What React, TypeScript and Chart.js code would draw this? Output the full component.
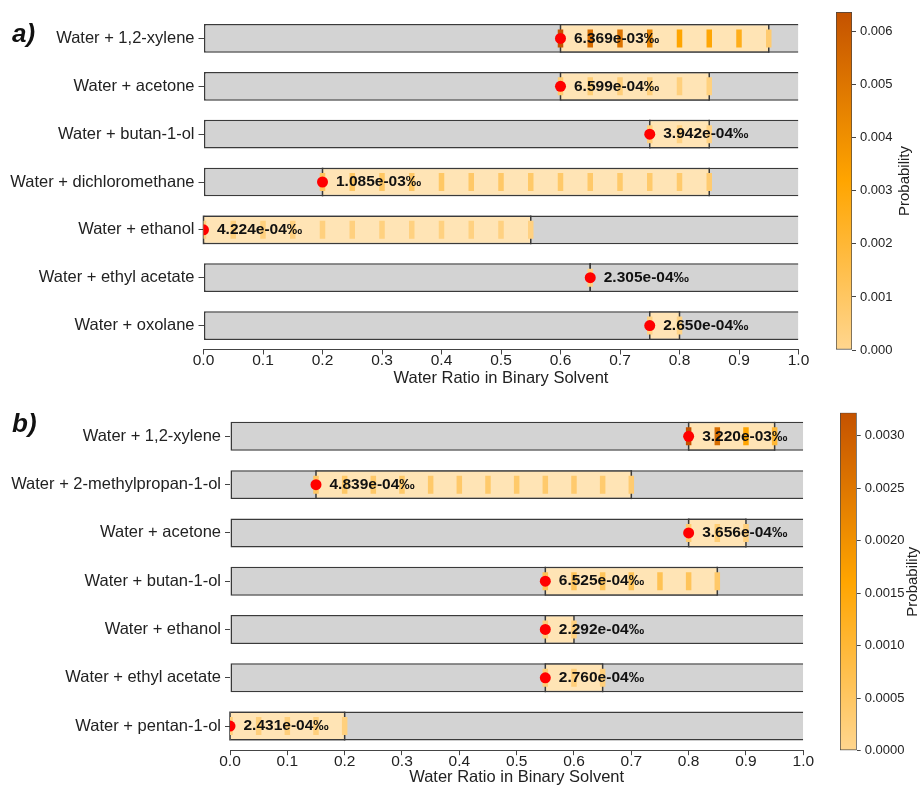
import React, { useEffect, useRef } from "react";
import { Chart, registerables } from "chart.js";

Chart.register(...registerables);

const FONT = '"Liberation Sans", Arial, Helvetica, sans-serif';

// ---------- shared axis data ----------
const xTicks = [0, 0.1, 0.2, 0.3, 0.4, 0.5, 0.6, 0.7, 0.8, 0.9, 1.0];
const X_MIN = 0;
const X_MAX = 1;
const gridStep = 0.05;
const xTitle = "Water Ratio in Binary Solvent";
const cbarTitle = "Probability";

// ---------- panel a ----------
const aSolvents = [
  "Water + 1,2-xylene",
  "Water + acetone",
  "Water + butan-1-ol",
  "Water + dichloromethane",
  "Water + ethanol",
  "Water + ethyl acetate",
  "Water + oxolane",
];
const aRangeMin = [0.6, 0.6, 0.75, 0.2, 0.0, 0.65, 0.75];
const aRangeMax = [0.95, 0.85, 0.85, 0.85, 0.55, 0.65, 0.8];
const aOptRatio = [0.6, 0.6, 0.75, 0.2, 0.0, 0.65, 0.75];
const aOptProb = [6.369e-3, 6.599e-4, 3.942e-4, 1.085e-3, 4.224e-4, 2.305e-4, 2.65e-4];
const aGridProb = [
  [0.006369, 0.0054, 0.0051, 0.0045, 0.0032, 0.0031, 0.0026, 0.0007],
  [0.00066, 0.00055, 0.0005, 0.00045, 0.0004, 0.00035],
  [0.000394, 0.0003, 0.00025],
  [0.001085, 0.001, 0.00098, 0.00095, 0.00093, 0.0009, 0.00088, 0.00086, 0.00084, 0.00082, 0.0008, 0.00078, 0.00076, 0.0007],
  [0.000422, 0.0004, 0.00039, 0.00038, 0.00037, 0.00036, 0.00035, 0.00034, 0.00033, 0.00032, 0.00031, 0.0003],
  [0.0002305],
  [0.000265, 0.00022],
];
const aColorMax = 0.006369;
const aCbarTicks = [0, 0.001, 0.002, 0.003, 0.004, 0.005, 0.006];
const aCbarDecimals = 3;

// ---------- panel b ----------
const bSolvents = [
  "Water + 1,2-xylene",
  "Water + 2-methylpropan-1-ol",
  "Water + acetone",
  "Water + butan-1-ol",
  "Water + ethanol",
  "Water + ethyl acetate",
  "Water + pentan-1-ol",
];
const bRangeMin = [0.8, 0.15, 0.8, 0.55, 0.55, 0.55, 0.0];
const bRangeMax = [0.95, 0.7, 0.9, 0.85, 0.6, 0.65, 0.2];
const bOptRatio = [0.8, 0.15, 0.8, 0.55, 0.55, 0.55, 0.0];
const bOptProb = [3.22e-3, 4.839e-4, 3.656e-4, 6.525e-4, 2.292e-4, 2.76e-4, 2.431e-4];
const bGridProb = [
  [0.00322, 0.0027, 0.0016, 0.001],
  [0.000484, 0.00046, 0.00045, 0.00044, 0.00043, 0.00042, 0.00041, 0.0004, 0.00039, 0.00038, 0.00037, 0.00035],
  [0.000366, 0.0003, 0.00025],
  [0.000653, 0.00062, 0.0006, 0.00064, 0.00066, 0.0006, 0.00045],
  [0.000229, 0.0002],
  [0.000276, 0.00025, 0.00022],
  [0.000243, 0.00023, 0.00022, 0.00021, 0.0002],
];
const bColorMax = 0.00322;
const bCbarTicks = [0, 0.0005, 0.001, 0.0015, 0.002, 0.0025, 0.003];
const bCbarDecimals = 4;

// ---------- colour map ----------
const CMAP: number[][] = [
  [255, 214, 143],
  [255, 165, 0],
  [196, 82, 0],
];
function cmap(t: number): string {
  const tt = Math.max(0, Math.min(1, t));
  const s = tt * (CMAP.length - 1);
  const i = Math.min(CMAP.length - 2, Math.floor(s));
  const f = s - i;
  const a = CMAP[i];
  const b = CMAP[i + 1];
  const c = a.map((v, k) => Math.round(v + (b[k] - v) * f));
  return `rgb(${c[0]},${c[1]},${c[2]})`;
}

function fmtProb(p: number): string {
  const [m, e] = p.toExponential(3).split("e");
  const n = parseInt(e, 10);
  return `${m}e${n < 0 ? "-" : "+"}${String(Math.abs(n)).padStart(2, "0")}‰`;
}

// ---------- plugins ----------
function makeEdgePlugin(mins: number[], maxs: number[]) {
  return {
    id: "rangeEdges",
    afterDatasetDraw(chart: any, args: any) {
      if (args.index !== 1) return;
      const { ctx, scales } = chart;
      const meta = chart.getDatasetMeta(1);
      ctx.save();
      ctx.strokeStyle = "#3a3a3a";
      ctx.lineWidth = 1.5;
      meta.data.forEach((bar: any, i: number) => {
        const { y, height } = bar.getProps(["y", "height"], true);
        [mins[i], maxs[i]].forEach((v) => {
          const px = scales.x.getPixelForValue(v);
          ctx.beginPath();
          ctx.moveTo(px, y - height / 2);
          ctx.lineTo(px, y + height / 2);
          ctx.stroke();
        });
      });
      ctx.restore();
    },
  };
}

function makeTextPlugin(ratios: number[], probs: number[]) {
  return {
    id: "optLabels",
    afterDatasetsDraw(chart: any) {
      const { ctx, scales } = chart;
      ctx.save();
      ctx.font = `bold 15.5px ${FONT}`;
      ctx.fillStyle = "#111";
      ctx.textBaseline = "middle";
      ctx.textAlign = "left";
      ratios.forEach((r, i) => {
        ctx.fillText(fmtProb(probs[i]), scales.x.getPixelForValue(r) + 13.5, scales.y.getPixelForValue(i));
      });
      ctx.restore();
    },
  };
}

function makeTagPlugin(text: string, x: number, y: number) {
  return {
    id: "panelTag",
    afterDraw(chart: any) {
      const { ctx } = chart;
      ctx.save();
      ctx.font = `italic bold 26px ${FONT}`;
      ctx.fillStyle = "#111";
      ctx.textBaseline = "alphabetic";
      ctx.textAlign = "left";
      ctx.fillText(text, x, y);
      ctx.restore();
    },
  };
}

function makeCbarTitlePlugin(text: string, x: number, y: number) {
  return {
    id: "cbarTitle",
    afterDraw(chart: any) {
      const { ctx } = chart;
      ctx.save();
      ctx.translate(x, y);
      ctx.rotate(-Math.PI / 2);
      ctx.font = `15px ${FONT}`;
      ctx.fillStyle = "#222";
      ctx.textAlign = "center";
      ctx.textBaseline = "middle";
      ctx.fillText(text, 0, 0);
      ctx.restore();
    },
  };
}

// ---------- components ----------
type PanelProps = {
  solvents: string[];
  rangeMin: number[];
  rangeMax: number[];
  optRatio: number[];
  optProb: number[];
  gridProb: number[][];
  colorMax: number;
  tag: string;
  layout: {
    left: number; top: number; w: number; h: number;
    padTop: number; padRight: number; yAxisW: number; xAxisH: number;
    titlePadBottom: number; tagX: number; tagY: number;
  };
};

function Panel(props: PanelProps) {
  const ref = useRef<HTMLCanvasElement | null>(null);
  const { solvents, rangeMin, rangeMax, optRatio, optProb, gridProb, colorMax, tag, layout } = props;
  useEffect(() => {
    if (!ref.current) return;
    const stripes: any[] = [];
    gridProb.forEach((row, i) => {
      row.forEach((p, j) => {
        stripes.push({ x: Math.round((rangeMin[i] + j * gridStep) * 100) / 100, y: solvents[i], p });
      });
    });
    const chart = new Chart(ref.current, {
      type: "bar",
      data: {
        labels: solvents,
        datasets: [
          {
            type: "bar",
            label: "full",
            data: solvents.map(() => [X_MIN, X_MAX]),
            backgroundColor: "#d3d3d3",
            borderColor: "#3a3a3a",
            borderWidth: { left: 1.5, top: 1.5, bottom: 1.5, right: 0 },
            borderSkipped: false,
            grouped: false,
            barPercentage: 0.6,
            categoryPercentage: 1,
            order: 5,
          },
          {
            type: "bar",
            label: "range",
            data: solvents.map((_, i) => [rangeMin[i], rangeMax[i]]),
            backgroundColor: "#ffe4b5",
            borderColor: "#3a3a3a",
            borderWidth: { left: 0, top: 1.5, bottom: 1.5, right: 0 },
            borderSkipped: false,
            grouped: false,
            barPercentage: 0.6,
            categoryPercentage: 1,
            order: 4,
          },
          {
            type: "scatter",
            label: "grid",
            data: stripes,
            pointStyle: "line",
            pointRotation: 90,
            pointRadius: 9,
            pointHoverRadius: 9,
            pointBorderWidth: 5.5,
            pointHoverBorderWidth: 5.5,
            pointBorderColor: (c: any) => cmap((c.raw ? c.raw.p : 0) / colorMax),
            clip: 0,
            order: 3,
          },
          {
            type: "scatter",
            label: "optimum",
            data: solvents.map((s, i) => ({ x: optRatio[i], y: s })),
            pointStyle: "circle",
            pointRadius: 5.5,
            pointHoverRadius: 5.5,
            pointBackgroundColor: "#ff0000",
            pointBorderWidth: 0,
            clip: 0,
            order: 1,
          },
        ] as any,
      },
      options: {
        indexAxis: "y",
        animation: false,
        responsive: false,
        devicePixelRatio: 1,
        events: [],
        layout: { padding: { left: 0, top: layout.padTop, right: layout.padRight, bottom: 0 } },
        plugins: { legend: { display: false }, tooltip: { enabled: false } },
        scales: {
          x: {
            type: "linear",
            position: "bottom",
            min: X_MIN,
            max: X_MAX,
            afterBuildTicks: (s: any) => {
              s.ticks = xTicks.map((v) => ({ value: v }));
            },
            ticks: {
              callback: (v: any) => Number(v).toFixed(1),
              font: { family: FONT, size: 15.5 },
              color: "#222",
              padding: -3,
              maxRotation: 0,
              autoSkip: false,
            },
            grid: { drawOnChartArea: false, drawTicks: true, tickLength: 5, color: "#444", lineWidth: 1 },
            border: { display: true, color: "#444", width: 1 },
            title: {
              display: true,
              text: xTitle,
              font: { family: FONT, size: 16.5 },
              color: "#222",
              padding: { top: 0, bottom: layout.titlePadBottom },
            },
            afterFit: (s: any) => {
              s.height = layout.xAxisH;
            },
          },
          y: {
            type: "category",
            position: "left",
            offset: true,
            ticks: { font: { family: FONT, size: 16.5 }, color: "#222", padding: 4, autoSkip: false },
            grid: { drawOnChartArea: false, drawTicks: true, tickLength: 5, color: "#444", offset: false },
            border: { display: false },
            afterFit: (s: any) => {
              s.width = layout.yAxisW;
            },
          },
        },
      } as any,
      plugins: [
        makeEdgePlugin(rangeMin, rangeMax),
        makeTextPlugin(optRatio, optProb),
        makeTagPlugin(tag, layout.tagX, layout.tagY),
      ],
    });
    return () => chart.destroy();
  }, []);
  return (
    <canvas
      ref={ref}
      width={layout.w}
      height={layout.h}
      style={{ position: "absolute", left: layout.left, top: layout.top, width: layout.w, height: layout.h }}
    />
  );
}

type CbarProps = {
  colorMax: number;
  ticks: number[];
  decimals: number;
  layout: {
    left: number; top: number; w: number; h: number;
    padTop: number; padBottom: number; padRight: number; yAxisW: number;
    titleX: number; titleY: number;
  };
};

function ColorBar(props: CbarProps) {
  const ref = useRef<HTMLCanvasElement | null>(null);
  const { colorMax, ticks, decimals, layout } = props;
  useEffect(() => {
    if (!ref.current) return;
    const chart = new Chart(ref.current, {
      type: "bar",
      data: {
        labels: ["p"],
        datasets: [
          {
            data: [colorMax],
            backgroundColor: (c: any) => {
              const ca = c.chart.chartArea;
              if (!ca) return cmap(0.5);
              const g = c.chart.ctx.createLinearGradient(0, ca.bottom, 0, ca.top);
              CMAP.forEach((_, k) => g.addColorStop(k / (CMAP.length - 1), cmap(k / (CMAP.length - 1))));
              return g;
            },
            borderColor: "#444",
            borderWidth: 1,
            borderSkipped: false,
            barPercentage: 1,
            categoryPercentage: 1,
          },
        ],
      },
      options: {
        animation: false,
        responsive: false,
        devicePixelRatio: 1,
        events: [],
        layout: { padding: { left: 0, right: layout.padRight, top: layout.padTop, bottom: layout.padBottom } },
        plugins: { legend: { display: false }, tooltip: { enabled: false } },
        scales: {
          x: { display: false },
          y: {
            position: "right",
            min: 0,
            max: colorMax,
            afterBuildTicks: (s: any) => {
              s.ticks = ticks.map((v) => ({ value: v }));
            },
            ticks: {
              callback: (v: any) => Number(v).toFixed(decimals),
              font: { family: FONT, size: 13 },
              color: "#222",
              padding: 4,
              autoSkip: false,
            },
            grid: { drawOnChartArea: false, drawTicks: true, tickLength: 4, color: "#444" },
            border: { display: false },
            afterFit: (s: any) => {
              s.width = layout.yAxisW;
            },
          },
        },
      } as any,
      plugins: [makeCbarTitlePlugin(cbarTitle, layout.titleX, layout.titleY)],
    });
    return () => chart.destroy();
  }, []);
  return (
    <canvas
      ref={ref}
      width={layout.w}
      height={layout.h}
      style={{ position: "absolute", left: layout.left, top: layout.top, width: layout.w, height: layout.h }}
    />
  );
}

export default function App() {
  return (
    <div
      style={{
        position: "absolute",
        left: 0,
        top: 0,
        width: 924,
        height: 786,
        overflow: "hidden",
        background: "#ffffff",
      }}
    >
      <Panel
        solvents={aSolvents}
        rangeMin={aRangeMin}
        rangeMax={aRangeMax}
        optRatio={aOptRatio}
        optProb={aOptProb}
        gridProb={aGridProb}
        colorMax={aColorMax}
        tag="a)"
        layout={{
          left: 0, top: 0, w: 830, h: 395,
          padTop: 10.8, padRight: 31.5, yAxisW: 203.5, xAxisH: 45.5,
          titlePadBottom: 6.4, tagX: 12, tagY: 42,
        }}
      />
      <ColorBar
        colorMax={aColorMax}
        ticks={aCbarTicks}
        decimals={aCbarDecimals}
        layout={{
          left: 836, top: 0, w: 88, h: 395,
          padTop: 12, padBottom: 45, padRight: 16, yAxisW: 56,
          titleX: 69, titleY: 181,
        }}
      />
      <Panel
        solvents={bSolvents}
        rangeMin={bRangeMin}
        rangeMax={bRangeMax}
        optRatio={bOptRatio}
        optProb={bOptProb}
        gridProb={bGridProb}
        colorMax={bColorMax}
        tag="b)"
        layout={{
          left: 0, top: 395, w: 830, h: 400,
          padTop: 17.2, padRight: 26.7, yAxisW: 230, xAxisH: 44.8,
          titlePadBottom: 7.4, tagX: 12, tagY: 37,
        }}
      />
      <ColorBar
        colorMax={bColorMax}
        ticks={bCbarTicks}
        decimals={bCbarDecimals}
        layout={{
          left: 840, top: 395, w: 84, h: 400,
          padTop: 17.7, padBottom: 44.3, padRight: 17.3, yAxisW: 50,
          titleX: 73, titleY: 186.7,
        }}
      />
    </div>
  );
}
